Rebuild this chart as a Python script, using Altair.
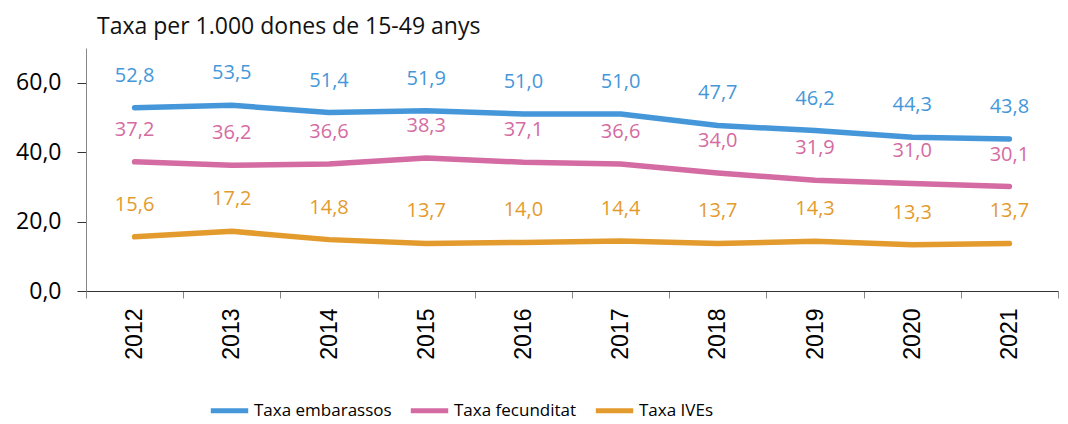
import altair as alt
import pandas as pd

years = ["2012", "2013", "2014", "2015", "2016", "2017", "2018", "2019", "2020", "2021"]
embarassos = [52.8, 53.5, 51.4, 51.9, 51.0, 51.0, 47.7, 46.2, 44.3, 43.8]
fecunditat = [37.2, 36.2, 36.6, 38.3, 37.1, 36.6, 34.0, 31.9, 31.0, 30.1]
ives = [15.6, 17.2, 14.8, 13.7, 14.0, 14.4, 13.7, 14.3, 13.3, 13.7]

series_names = ["Taxa embarassos", "Taxa fecunditat", "Taxa IVEs"]
series_colors = ["#4597DA", "#D46BA2", "#E39B2E"]
y_ticks = [0, 20, 40, 60]
title_text = "Taxa per 1.000 dones de 15-49 anys"

rows = []
for name, vals in zip(series_names, [embarassos, fecunditat, ives]):
    for yr, v in zip(years, vals):
        rows.append({"year": yr, "value": v, "serie": name,
                     "label": f"{v:.1f}".replace(".", ",")})
df = pd.DataFrame(rows)

x_enc = alt.X(
    "year:O",
    sort=years,
    bandPosition=0.5,
    scale=alt.Scale(type="band", paddingInner=0, paddingOuter=0),
    axis=alt.Axis(
        title=None, labelAngle=270, labelFont="Liberation Sans", labelFontSize=23,
        labelColor="#000", tickBand="extent", tickSize=7, tickColor="#888",
        domainColor="#333", labelPadding=10, grid=False,
    ),
)
y_enc = alt.Y(
    "value:Q",
    scale=alt.Scale(domain=[0, 70], nice=False),
    axis=alt.Axis(
        title=None, values=y_ticks,
        labelExpr="replace(format(datum.value, '.1f'), '.', ',')",
        labelFont="Open Sans", labelFontSize=23, labelColor="#000",
        tickSize=9, tickColor="#333", domainColor="#888", labelPadding=16, grid=False,
    ),
)
color_enc = alt.Color(
    "serie:N",
    sort=series_names,
    scale=alt.Scale(domain=series_names, range=series_colors),
    legend=alt.Legend(
        title=None, orient="none", legendX=122, legendY=341, direction="horizontal",
        symbolType="stroke", symbolStrokeWidth=5, symbolSize=1400,
        labelFont="Open Sans", labelFontSize=17, labelColor="#000",
        labelOffset=3, columnPadding=8,
    ),
)

base = alt.Chart(df).encode(x=x_enc, y=y_enc, color=color_enc)
lines = base.mark_line(strokeWidth=5.5, strokeCap="round", strokeJoin="round")
labels = base.mark_text(dy=-32, font="Open Sans", fontSize=20, baseline="middle").encode(text="label:N")

chart = (
    alt.layer(lines, labels)
    .properties(
        width=972, height=243,
        padding={"left": 7, "top": 8, "right": 0, "bottom": 0},
        title=alt.TitleParams(
            title_text, anchor="start", frame="group", font="Open Sans", fontSize=23,
            fontWeight="normal", color="#111", dx=11, offset=9,
        ),
    )
    .configure_view(stroke=None)
)

chart.save("out.html", embed_options={"renderer": "svg", "actions": False})
